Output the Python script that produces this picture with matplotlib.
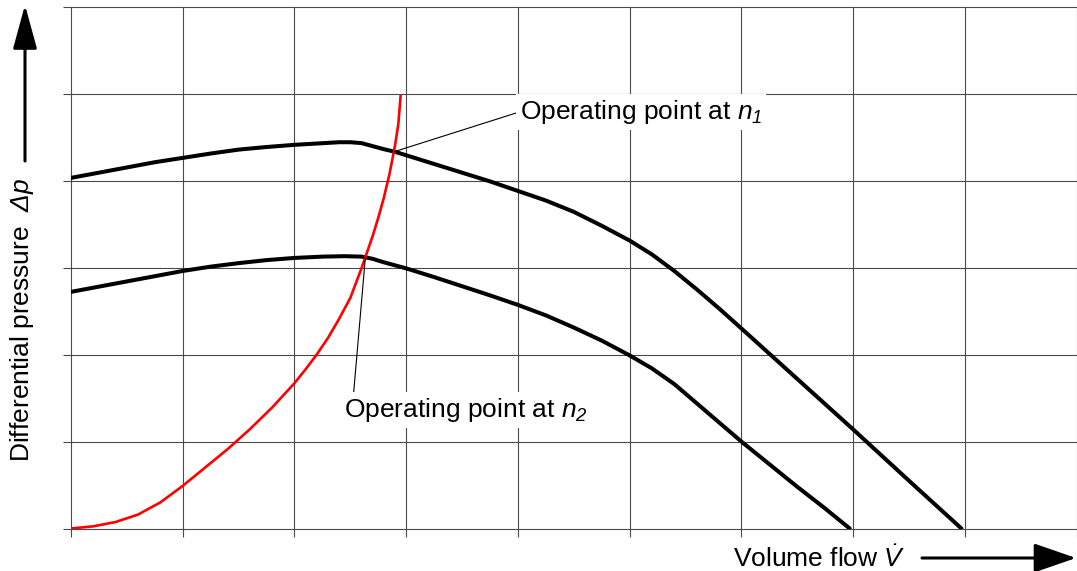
import matplotlib
matplotlib.use("Agg")
import matplotlib.pyplot as plt
import numpy as np

plt.rcParams['font.family'] = ['Liberation Sans', 'DejaVu Sans']
plt.rcParams['mathtext.fontset'] = 'custom'
# every math symbol in this chart is italic, digits and Greek included
plt.rcParams['mathtext.rm'] = 'Liberation Sans:italic'
plt.rcParams['mathtext.it'] = 'Liberation Sans:italic'

# pump curve at speed n1 (upper)
n1_x = [0.0, 0.25, 0.5, 0.75, 1.0, 1.25, 1.5, 1.75, 2.0, 2.2, 2.4, 2.5, 2.6,
        2.7, 2.8, 2.9, 3.0, 3.25, 3.5, 3.75, 4.0, 4.25, 4.5, 4.75, 5.0, 5.2,
        5.4, 5.6, 5.8, 6.0, 6.25, 6.5, 6.75, 7.0, 7.5, 7.97]
n1_y = [4.03, 4.09, 4.15, 4.21, 4.26, 4.31, 4.355, 4.385, 4.41, 4.425, 4.44, 4.44,
        4.43, 4.395, 4.36, 4.33, 4.29, 4.19, 4.09, 3.99, 3.88, 3.77, 3.64, 3.48,
        3.31, 3.15, 2.96, 2.75, 2.53, 2.30, 2.01, 1.72, 1.43, 1.14, 0.55, 0.0]

# pump curve at speed n2 (lower)
n2_x = [0.0, 0.25, 0.5, 0.75, 1.0, 1.25, 1.5, 1.75, 2.0, 2.25, 2.45, 2.6, 2.7,
        2.8, 3.0, 3.25, 3.5, 3.75, 4.0, 4.25, 4.5, 4.75, 5.0, 5.2, 5.4, 5.6,
        5.8, 6.0, 6.25, 6.5, 6.75, 6.97]
n2_y = [2.72, 2.78, 2.84, 2.90, 2.96, 3.01, 3.05, 3.085, 3.11, 3.125, 3.13, 3.125,
        3.10, 3.06, 2.99, 2.89, 2.785, 2.68, 2.57, 2.45, 2.31, 2.16, 1.99, 1.84,
        1.66, 1.44, 1.22, 1.0, 0.74, 0.48, 0.23, 0.0]

# system curve (red)
sys_x = [0.0, 0.2, 0.4, 0.6, 0.8, 1.0, 1.2, 1.4, 1.6, 1.8, 2.0, 2.1, 2.2, 2.3,
         2.4, 2.5, 2.6, 2.7, 2.75, 2.8, 2.85, 2.9, 2.93, 2.95]
sys_y = [0.0, 0.025, 0.075, 0.16, 0.30, 0.49, 0.70, 0.91, 1.14, 1.39, 1.67, 1.83,
         2.0, 2.19, 2.41, 2.65, 2.99, 3.36, 3.57, 3.80, 4.07, 4.40, 4.65, 4.97]

# operating points and where their labels sit
op_labels = [r'Operating point at $n_1$', r'Operating point at $n_2$']
op_x = [2.89, 2.635]
op_y = [4.33, 3.12]
lab_x = [4.02, 2.44]
lab_y = [4.71, 1.28]
lab_relpos = [(0.0, 0.5), (0.04, 1.0)]

fig = plt.figure(figsize=(10.77, 5.71), dpi=100)
ax = fig.add_axes([71 / 1077, 42.5 / 571, 1005.5 / 1077, 522 / 571])

gcol = '#4a4a4a'
ax.set_xlim(0, 9)
ax.set_ylim(0, 6)
ax.set_xticks(np.arange(0, 10))
ax.set_yticks(np.arange(0, 7))
ax.set_xticklabels([])
ax.set_yticklabels([])
ax.tick_params(length=5.8, width=0.8, color=gcol, direction='out')
ax.grid(True, color=gcol, lw=0.8)
ax.set_axisbelow(True)
for ln in ax.get_xgridlines() + ax.get_ygridlines():
    ln.set_clip_on(False)
for s in ax.spines.values():
    s.set_visible(False)

ax.plot(n1_x, n1_y, color='black', lw=2.9, solid_capstyle='round',
        solid_joinstyle='round', zorder=3)
ax.plot(n2_x, n2_y, color='black', lw=2.9, solid_capstyle='round',
        solid_joinstyle='round', zorder=3)
ax.plot(sys_x, sys_y, color='#ff0000', lw=1.9, solid_joinstyle='round', zorder=4)

for i in range(2):
    ax.annotate(op_labels[i], xy=(op_x[i], op_y[i]), xytext=(lab_x[i], lab_y[i]),
                fontsize=19, ha='left', va='baseline', zorder=5,
                bbox=dict(boxstyle='square,pad=0.15', fc='white', ec='none'),
                arrowprops=dict(arrowstyle='-', lw=0.8, color='black',
                                shrinkA=0, shrinkB=0, relpos=lab_relpos[i]))

# axis titles with arrows
fig.text(22 / 1077, 251 / 571, r'Differential pressure  $\Delta p$',
         rotation=90, ha='center', va='center', fontsize=19)
fig.text(733 / 1077, 4 / 571, r'Volume flow $\dot{V}$',
         ha='left', va='baseline', fontsize=19)

ax.annotate('', xy=(25, 566), xytext=(25, 410), xycoords='figure pixels',
            textcoords='figure pixels',
            arrowprops=dict(arrowstyle='-|>,head_length=1.35,head_width=0.37',
                            mutation_scale=20, lw=2.2, color='black',
                            shrinkA=0, shrinkB=0))
ax.annotate('', xy=(1076, 13), xytext=(922, 13), xycoords='figure pixels',
            textcoords='figure pixels',
            arrowprops=dict(arrowstyle='-|>,head_length=1.3,head_width=0.45',
                            mutation_scale=20, lw=2.2, color='black',
                            shrinkA=0, shrinkB=0))

fig.savefig('out.png', dpi=100)
